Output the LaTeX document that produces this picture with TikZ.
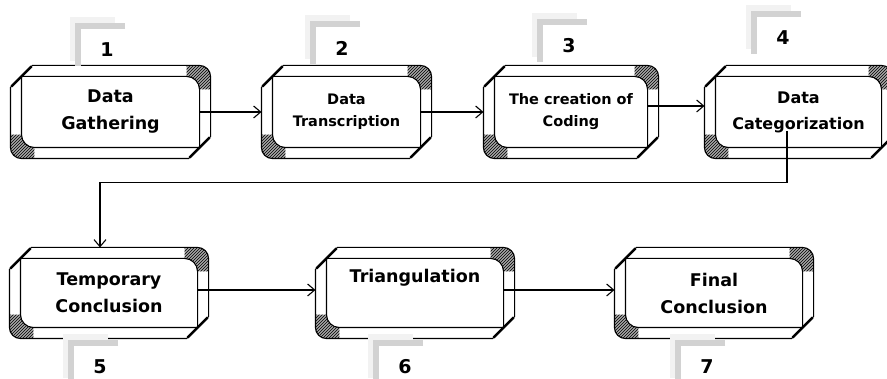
\documentclass[tikz,border=0pt]{standalone}
\usepackage{fontspec}
\setmainfont{DejaVu Sans}
\usetikzlibrary{calc,patterns,arrows.meta}

\tikzset{
  stage/.style={inner sep=0pt, minimum height=70pt, align=center,
    font=\bfseries\fontsize{17.5}{27}\selectfont},
  smalltext/.style={font=\bfseries\fontsize{14.5}{22}\selectfont},
  midtext/.style={font=\bfseries\fontsize{16}{26}\selectfont},
  num/.style={inner sep=0pt, font=\bfseries\fontsize{19}{20}\selectfont},
  hatch/.style={fill=gray!70, postaction={pattern=north east lines}},
}

\begin{document}
\begin{tikzpicture}[x=1pt,y=1pt,>={Straight Barb[length=7pt,width=12pt]},line width=1.1pt]
  \useasboundingbox (0,0) rectangle (887,379);

  % first row
  \node[stage, minimum width=177pt] (b1) at (110.5,267) {Data\\Gathering};
  \node[stage, smalltext, minimum width=147pt] (b2) at (346.5,267) {Data\\Transcription};
  \node[stage, smalltext, minimum width=152pt] (b3) at (571,267) {The creation of\\Coding};
  \node[stage, midtext, minimum width=165pt] (b4) at (798.5,267) {Data\\Categorization};
  % second row
  \node[stage, minimum width=176pt, minimum height=68pt] (b5) at (109,86) {Temporary\\Conclusion};
  \node[stage, minimum width=176pt, minimum height=68pt] (b6) at (415,86) {Triangulation\\\strut};
  \node[stage, minimum width=176pt, minimum height=68pt] (b7) at (714,86) {Final\\Conclusion};

  % bevelled frames
  \foreach \b in {b1,b2,b3,b4,b5,b6,b7}{
    \path[hatch] ($(\b.north east)+(-13,11)$) -- ($(\b.north east)+(0,11)$)
      arc[start angle=90,end angle=0,radius=11] -- ($(\b.north east)+(11,-13)$)
      -- ($(\b.north east)+(0,-13)$) arc[start angle=0,end angle=90,radius=13] -- cycle;
    \path[hatch] ($(\b.south west)+(13,-11)$) -- ($(\b.south west)+(0,-11)$)
      arc[start angle=270,end angle=180,radius=11] -- ($(\b.south west)+(-11,13)$)
      -- ($(\b.south west)+(0,13)$) arc[start angle=180,end angle=270,radius=13] -- cycle;
    \draw ($(\b.north west)+(11,11)$) -- ($(\b.north east)+(0,11)$)
      arc[start angle=90,end angle=0,radius=11] -- ($(\b.south east)+(11,11)$)
      -- ($(\b.south east)+(-11,-11)$) -- ($(\b.south west)+(0,-11)$)
      arc[start angle=270,end angle=180,radius=11] -- ($(\b.north west)+(-11,-11)$) -- cycle;
    \draw (\b.north west) -- ($(\b.north east)+(-13,0)$)
      arc[start angle=90,end angle=0,radius=13] -- (\b.south east)
      -- ($(\b.south west)+(13,0)$) arc[start angle=270,end angle=180,radius=13] -- cycle;
    \draw[line width=2.6pt] ($(\b.north west)+(-10,-10)$) -- ($(\b.north west)+(10,10)$);
    \draw[line width=2.6pt] ($(\b.south east)+(10,10)$) -- ($(\b.south east)+(-10,-10)$);
  }

  % step numbers
  \node[num] (n1) at (107,329) {1};
  \node[num] (n2) at (342,331) {2};
  \node[num] (n3) at (569,333) {3};
  \node[num] (n4) at (783,341) {4};
  \node[num] (n5) at (100,12) {5};
  \node[num] (n6) at (405,12) {6};
  \node[num] (n7) at (707,12) {7};
  \foreach \n in {n1,n2,n3,n4,n5,n6,n7}{
    \draw[gray!10, line width=7pt] ($(\n)+(8,29)$) -- ($(\n)+(-34,29)$) -- ($(\n)+(-34,-11)$);
    \draw[gray!35, line width=6pt] ($(\n)+(18,24)$) -- ($(\n)+(-29,24)$) -- ($(\n)+(-29,-16)$);
  }

  % connectors
  \draw[->] (b1.east) -- ($(b2.west)+(-11,0)$);
  \draw[->] (b2.east) -- ($(b3.west)+(-11,0)$);
  \draw[->] ($(b3.east)+(0,6)$) -- ($(b4.west)+(-11,6)$);
  \draw[->] ($(b4.center)+(-11.5,-19)$) |- ($(b5.north)+(-9,76)$) -- ($(b5.north)+(-9,11)$);
  \draw[->] ($(b5.east)+(0,3)$) -- ($(b6.west)+(-11,3)$);
  \draw[->] ($(b6.east)+(0,3)$) -- ($(b7.west)+(-11,3)$);
\end{tikzpicture}
\end{document}
